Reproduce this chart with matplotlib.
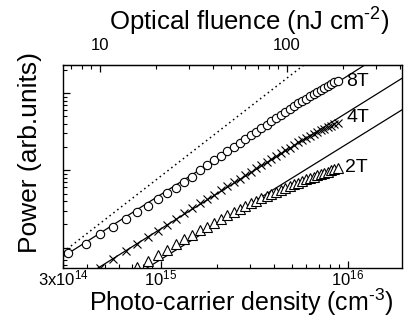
import matplotlib
matplotlib.use("Agg")
import matplotlib.pyplot as plt
import numpy as np

plt.rcParams['font.family'] = ['Liberation Sans', 'DejaVu Sans']
plt.rcParams['mathtext.fontset'] = 'custom'
plt.rcParams['mathtext.rm'] = 'Liberation Sans'
plt.rcParams['mathtext.it'] = 'Liberation Sans:italic'

# ---- data -------------------------------------------------------------
# photo-carrier density (cm^-3)
density = [3.20e14, 3.95e14, 4.72e14, 5.56e14, 6.47e14, 7.44e14, 8.48e14, 9.60e14,
           1.078e15, 1.202e15, 1.334e15, 1.473e15, 1.618e15, 1.770e15, 1.929e15,
           2.095e15, 2.268e15, 2.447e15, 2.634e15, 2.827e15, 3.027e15, 3.234e15,
           3.448e15, 3.669e15, 3.896e15, 4.130e15, 4.372e15, 4.619e15, 4.874e15,
           5.136e15, 5.405e15, 5.680e15, 5.962e15, 6.251e15, 6.547e15, 6.850e15,
           7.159e15, 7.476e15, 7.799e15, 8.129e15, 8.466e15, 8.810e15]

power_8T = [0.851, 1.113, 1.499, 1.847, 2.344, 2.887, 3.505, 4.254, 5.086, 5.991,
            7.059, 8.19, 10.09, 11.71, 13.47, 15.45, 17.61, 20.01, 22.55, 25.41,
            28.37, 31.67, 35.26, 39.13, 43.04, 47.50, 51.93, 56.78, 62.09, 67.89,
            73.37, 78.79, 84.66, 90.64, 97.07, 103.6, 110.0, 116.8, 123.6, 130.3,
            137.1, 143.8]

# 4T starts at the 3rd density value
power_4T = [0.545, 0.703, 0.893, 1.110, 1.363, 1.654, 1.984, 2.358, 2.770, 3.234,
            3.731, 4.279, 4.863, 5.512, 6.209, 6.976, 7.788, 8.668, 9.592, 10.61,
            11.68, 12.84, 14.05, 15.36, 16.74, 18.20, 19.67, 21.31, 23.03, 24.66,
            26.33, 27.95, 29.67, 31.30, 33.03, 34.64, 36.33, 37.98, 39.60, 41.16]

# 2T starts at the 6th density value
power_2T = [0.561, 0.671, 0.802, 0.945, 1.103, 1.280, 1.473, 1.674, 1.875, 2.106,
            2.358, 2.617, 2.887, 3.167, 3.452, 3.742, 4.044, 4.356, 4.679, 4.995,
            5.318, 5.644, 5.973, 6.303, 6.630, 6.954, 7.293, 7.626, 7.951, 8.289,
            8.616, 8.956, 9.284, 9.621, 9.970, 10.30, 10.65]

# straight (power-law) guide lines, given at two densities
fit_density = [3e14, 2e16]
fit_8T = [0.767, 486.0]
fit_4T = [0.285, 161.6]
fit_2T = [0.116, 63.2]
dotted_ref = [0.877, 2355.0]

# conversion density -> optical fluence (nJ cm^-2)
fluence_per_density = 2.12e-14

x_ticks = [3e14, 1e15, 1e16]
x_ticklabels = [r'3x10$^{14}$', r'10$^{15}$', r'10$^{16}$']
top_ticks = [10, 100]
top_ticklabels = ['10', '100']

# ---- figure -----------------------------------------------------------
fig = plt.figure(figsize=(4.07, 3.27), dpi=100)
ax = fig.add_axes([0.1553, 0.1804, 0.8329, 0.6193])

ax.set_xscale('log')
ax.set_yscale('log')
ax.set_xlim(3e14, 1.95e16)
ax.set_ylim(0.545, 227)

ax.plot(fit_density, dotted_ref, color='black', lw=1.1, ls=(0, (1, 2.2)))
ax.plot(fit_density, fit_8T, color='black', lw=0.9)
ax.plot(fit_density, fit_4T, color='black', lw=0.9)
ax.plot(fit_density, fit_2T, color='black', lw=0.9)

ax.plot(density, power_8T, ls='none', marker='o', ms=6, mfc='white',
        mec='black', mew=0.8)
ax.plot(density[2:], power_4T, ls='none', marker='x', ms=6, mec='black', mew=0.8)
ax.plot(density[5:], power_2T, ls='none', marker='^', ms=7, mfc='white',
        mec='black', mew=0.8)

ax.text(1.13e16, 143, '8T', fontsize=14, ha='center', va='center')
ax.text(1.13e16, 48.9, '4T', fontsize=14, ha='center', va='center')
ax.text(1.11e16, 11.0, '2T', fontsize=14, ha='center', va='center')

# ticks
ax.set_xticks(x_ticks)
ax.set_xticklabels(x_ticklabels, fontsize=12)
ax.xaxis.set_minor_locator(matplotlib.ticker.LogLocator(base=10, subs=np.arange(2, 10)))
ax.xaxis.set_minor_formatter(matplotlib.ticker.NullFormatter())
ax.yaxis.set_major_locator(matplotlib.ticker.LogLocator(base=10))
ax.yaxis.set_minor_locator(matplotlib.ticker.LogLocator(base=10, subs=np.arange(2, 10)))
ax.yaxis.set_major_formatter(matplotlib.ticker.NullFormatter())
ax.yaxis.set_minor_formatter(matplotlib.ticker.NullFormatter())
ax.tick_params(which='both', direction='in', top=False, right=False)
ax.tick_params(which='major', length=5, width=0.9)
ax.tick_params(which='minor', length=3, width=0.8)
ax.tick_params(axis='x', which='major', pad=0.0)
for s in ax.spines.values():
    s.set_linewidth(1.0)

sec = ax.secondary_xaxis('top', functions=(lambda n: n * fluence_per_density,
                                            lambda f: f / fluence_per_density))
sec.set_xscale('log')
sec.set_xticks(top_ticks)
sec.set_xticklabels(top_ticklabels, fontsize=12)
sec.xaxis.set_minor_locator(matplotlib.ticker.LogLocator(base=10, subs=np.arange(2, 10)))
sec.xaxis.set_minor_formatter(matplotlib.ticker.NullFormatter())
sec.tick_params(which='both', direction='in')
sec.tick_params(which='major', length=5, width=0.9, pad=9)
sec.tick_params(which='minor', length=3, width=0.8)

fig.text(0.592, 0.05, r'Photo-carrier density (cm$^{\text{-}3}$)', fontsize=18,
         ha='center', va='baseline')
fig.text(0.612, 0.905, r'Optical fluence (nJ cm$^{\text{-}2}$)', fontsize=18.5,
         ha='center', va='baseline')
fig.text(0.074, 0.535, 'Power (arb.units)', fontsize=19, rotation=90,
         ha='center', va='center')

fig.savefig('out.png', dpi=100)
